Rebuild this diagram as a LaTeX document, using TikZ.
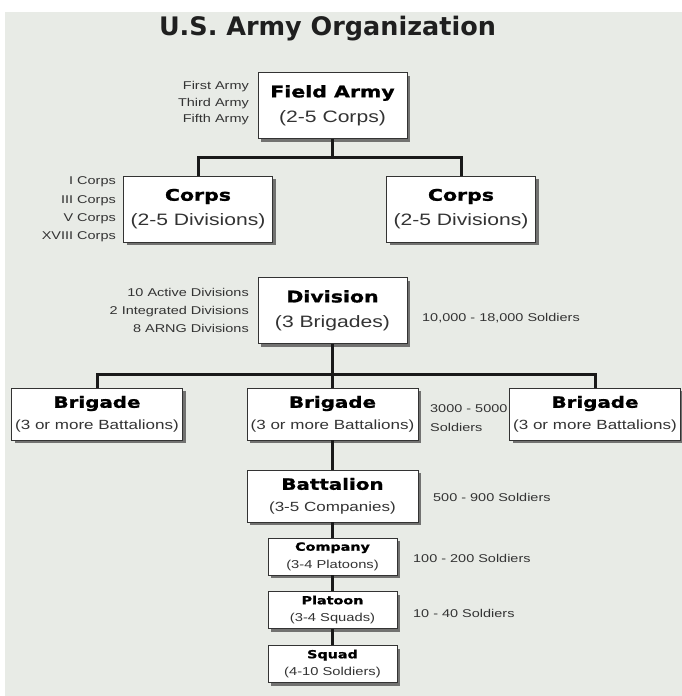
\documentclass[tikz,border=0pt]{standalone}
\usepackage{fontspec}
\usetikzlibrary{shadows}
%
\newfontfamily\titlefont{DejaVu Sans Bold}
\newfontfamily\headfont{DejaVu Sans Bold}[FakeStretch=1.28,FakeBold=1.2]
\newfontfamily\plainfont{Liberation Sans}[FakeStretch=1.28]
%
\definecolor{pagegray}{HTML}{E8EBE6}
\definecolor{inkgray}{HTML}{333333}
%
\newcommand\unithead[1]{{\headfont #1}}
\newcommand\unitsub[1]{{\plainfont\fontsize{\subpt}{\linept}\selectfont\color{inkgray}#1}}
%
\tikzset{
  unit/.style={draw=black!80, line width=.9pt, fill=white, inner sep=0pt, align=center,
    drop shadow={shadow xshift=3pt, shadow yshift=-3pt, fill=black!75, opacity=.7}},
  armyunit/.style={unit, minimum width=149pt, minimum height=66pt,
    font={\def\subpt{16.5}\def\linept{25}\fontsize{16}{25}\selectfont}},
  brigunit/.style={unit, minimum width=171pt, minimum height=52pt,
    font={\def\subpt{13.3}\def\linept{21.5}\fontsize{15.5}{21.5}\selectfont}},
  squadunit/.style={unit, minimum width=129pt, minimum height=37pt,
    font={\def\subpt{11.5}\def\linept{17.5}\fontsize{11.2}{17.5}\selectfont}},
  note/.style={inner sep=0pt, text=inkgray, font=\plainfont\fontsize{11.3}{16.5}\selectfont},
  link/.style={draw=black!90, line width=3pt}
}
%
\begin{document}
\begin{tikzpicture}[x=1pt,y=-1pt]
%
\def\mid{332.5};
\def\armybary{157};
\def\divbary{374};
%
\useasboundingbox (0,0) rectangle (682,696);
\fill[white] (0,0) rectangle (682,696);
\fill[pagegray] (5,12) rectangle (682,696);
%
\node[anchor=base, text=black!88, font=\titlefont\fontsize{25.5}{30}\selectfont] (title) at (327.5,35) {U.S. Army Organization};
%
\node[armyunit] (field) at (\mid,105.5) {\unithead{Field Army}\\\unitsub{(2-5 Corps)}};
\node[armyunit] (corpsL) at (198,209) {\unithead{Corps}\\\unitsub{(2-5 Divisions)}};
\node[armyunit] (corpsR) at (461,209) {\unithead{Corps}\\\unitsub{(2-5 Divisions)}};
\node[armyunit] (div) at (\mid,310.5) {\unithead{Division}\\\unitsub{(3 Brigades)}};
%
\node[brigunit] (brigL) at (97,414) {\unithead{Brigade}\\\unitsub{(3 or more Battalions)}};
\node[brigunit] (brigM) at (\mid,414) {\unithead{Brigade}\\\unitsub{(3 or more Battalions)}};
\node[brigunit] (brigR) at (595,414) {\unithead{Brigade}\\\unitsub{(3 or more Battalions)}};
\node[brigunit] (batt) at (\mid,496) {\unithead{Battalion}\\\unitsub{(3-5 Companies)}};
%
\node[squadunit] (comp) at (\mid,556.5) {\unithead{Company}\\\unitsub{(3-4 Platoons)}};
\node[squadunit] (plat) at (\mid,610) {\unithead{Platoon}\\\unitsub{(3-4 Squads)}};
\node[squadunit] (squad) at (\mid,664) {\unithead{Squad}\\\unitsub{(4-10 Soldiers)}};
%
\node[note, anchor=east, align=right] (fieldnote) at (249,103.5) {First Army\\Third Army\\Fifth Army};
\node[note, anchor=east, align=right, font=\plainfont\fontsize{11.3}{18.3}\selectfont] (corpsnote) at (116,209.5) {I Corps\\III Corps\\V Corps\\XVIII Corps};
\node[note, anchor=east, align=right, font=\plainfont\fontsize{11.3}{18}\selectfont] (divnote) at (249,310) {10 Active Divisions\\2 Integrated Divisions\\8 ARNG Divisions};
%
\node[note, anchor=west] (divsize) at (422,318) {10,000 - 18,000 Soldiers};
\node[note, anchor=west, align=left, font=\plainfont\fontsize{11.3}{19}\selectfont] (brigsize) at (430,418.5) {3000 - 5000\\Soldiers};
\node[note, anchor=west] (battsize) at (433,497) {500 - 900 Soldiers};
\node[note, anchor=west] (compsize) at (413,558) {100 - 200 Soldiers};
\node[note, anchor=west] (platsize) at (413,613) {10 - 40 Soldiers};
%
\coordinate (armybar) at (\mid,\armybary);
\coordinate (divbar) at (\mid,\divbary);
%
\draw[link] (field.south) -- (armybar);
\draw[link] (corpsL.north) |- (armybar) -| (corpsR.north);
%
\draw[link] (div.south) -- (divbar);
\draw[link] (brigL.north) |- (divbar) -| (brigR.north);
\draw[link] (divbar) -- (brigM.north);
%
\draw[link] (brigM.south) -- (batt.north);
\draw[link] (batt.south) -- (comp.north);
\draw[link] (comp.south) -- (plat.north);
\draw[link] (plat.south) -- (squad.north);
%
\end{tikzpicture}
\end{document}
